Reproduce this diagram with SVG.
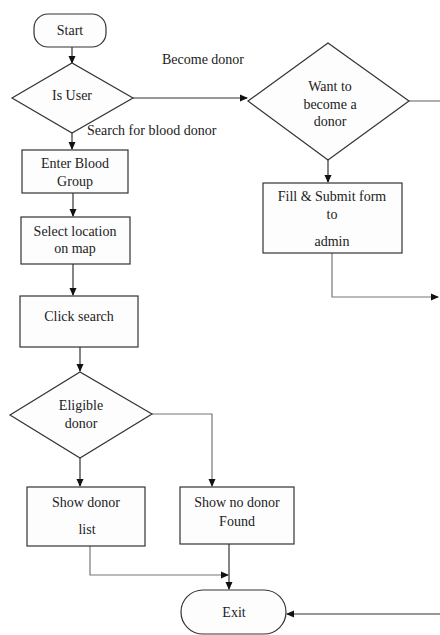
<svg xmlns="http://www.w3.org/2000/svg" width="440" height="635" viewBox="0 0 440 635">
<defs>
<marker id="ah" markerWidth="8" markerHeight="8" refX="7" refY="4" orient="auto" markerUnits="userSpaceOnUse">
<path d="M0,0.5 L8,4 L0,7.5 z" fill="#111"/>
</marker>
<style>
.s{fill:#fdfdfd;stroke:#333;stroke-width:1.2}
.t{font-family:"Liberation Serif","Times New Roman",serif;font-size:14px;fill:#222;text-anchor:middle}
.l{font-family:"Liberation Serif","Times New Roman",serif;font-size:14px;fill:#222}
.c{fill:none;stroke:#333;stroke-width:1.2}
.g{fill:none;stroke:#777;stroke-width:1.2}
</style>
</defs>
<rect width="440" height="635" fill="#fff"/>
<g id="connectors">
<path class="c" d="M72,47 V63" marker-end="url(#ah)"/>
<path class="c" d="M133,98 H247" marker-end="url(#ah)"/>
<path class="g" d="M409,101 H440"/>
<path class="c" d="M328,160 V182" marker-end="url(#ah)"/>
<path class="g" d="M332,253 V297 H438" marker-end="url(#ah)"/>
<path class="c" d="M72,133 V149" marker-end="url(#ah)"/>
<path class="c" d="M73,193 V216" marker-end="url(#ah)"/>
<path class="c" d="M73,264 V295" marker-end="url(#ah)"/>
<path class="c" d="M80,347 V371" marker-end="url(#ah)"/>
<path class="g" d="M152,414 H212 V486" marker-end="url(#ah)"/>
<path class="c" d="M80,458 V486" marker-end="url(#ah)"/>
<path class="g" d="M90,546 V575 H228" marker-end="url(#ah)"/>
<path class="c" d="M229,544 V589" marker-end="url(#ah)"/>
<path class="c" d="M440,614 H287" marker-end="url(#ah)"/>
</g>
<g id="labels">
<text class="l" x="162" y="64">Become donor</text>
<text class="l" x="87" y="135">Search for blood donor</text>
</g>
<g id="start">
<rect class="s" x="34" y="14" width="72" height="33" rx="14"/>
<text class="t" x="70" y="35">Start</text>
</g>
<g id="isuser">
<polygon class="s" points="12,98 72,63 133,98 72,133"/>
<text class="t" x="72" y="100">Is User</text>
</g>
<g id="want">
<polygon class="s" points="248,101 328,43 409,101 328,160"/>
<text class="t" x="330" y="91">Want to</text>
<text class="t" x="330" y="109">become a</text>
<text class="t" x="330" y="126">donor</text>
</g>
<g id="fill">
<rect class="s" x="263" y="183" width="139" height="70"/>
<text class="t" x="332" y="201">Fill &amp; Submit form</text>
<text class="t" x="332" y="219">to</text>
<text class="t" x="332" y="246">admin</text>
</g>
<g id="enter">
<rect class="s" x="22" y="150" width="106" height="43"/>
<text class="t" x="75" y="168">Enter Blood</text>
<text class="t" x="75" y="186">Group</text>
</g>
<g id="select">
<rect class="s" x="21" y="217" width="109" height="47"/>
<text class="t" x="75" y="236">Select location</text>
<text class="t" x="75" y="253">on map</text>
</g>
<g id="click">
<rect class="s" x="20" y="296" width="118" height="51"/>
<text class="t" x="79" y="321">Click search</text>
</g>
<g id="eligible">
<polygon class="s" points="10,415 80,372 152,414 80,458"/>
<text class="t" x="81" y="410">Eligible</text>
<text class="t" x="81" y="428">donor</text>
</g>
<g id="showlist">
<rect class="s" x="27" y="487" width="118" height="59"/>
<text class="t" x="86" y="507">Show donor</text>
<text class="t" x="87" y="534">list</text>
</g>
<g id="nodonor">
<rect class="s" x="180" y="487" width="114" height="57"/>
<text class="t" x="237" y="507">Show no donor</text>
<text class="t" x="237" y="526">Found</text>
</g>
<g id="exit">
<rect class="s" x="181" y="590" width="105" height="44" rx="22"/>
<text class="t" x="234" y="617">Exit</text>
</g>
</svg>
